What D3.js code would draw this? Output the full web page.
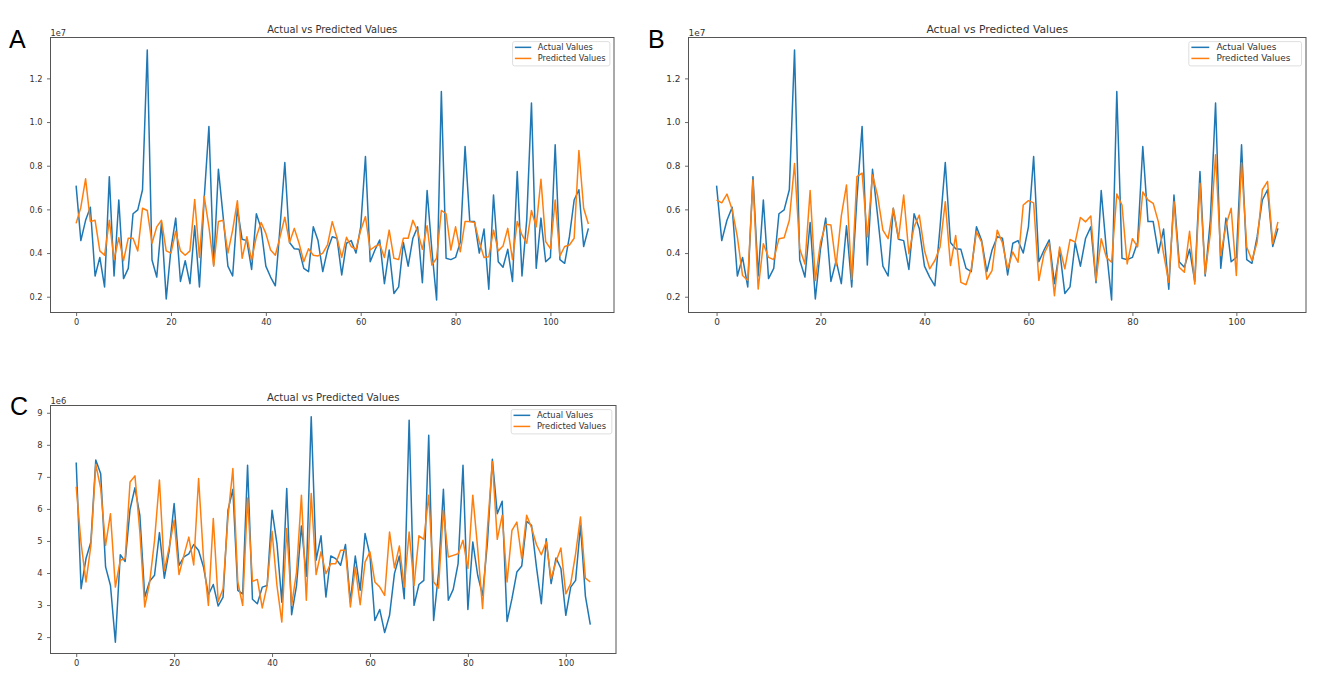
<!DOCTYPE html>
<html><head><meta charset="utf-8">
<script src="https://cdn.jsdelivr.net/npm/d3@7"></script>
<style>body{margin:0;background:#fff}svg{display:block}text{font-family:"DejaVu Sans",sans-serif}</style>
</head><body><svg id="c" width="1320" height="689"></svg>
<script>
// ---- data (values in millions) ----
const indexTicks = [0, 20, 40, 60, 80, 100];
const yTicksAB = [2e6, 4e6, 6e6, 8e6, 10e6, 12e6];
const yTicksC = [2e6, 3e6, 4e6, 5e6, 6e6, 7e6, 8e6, 9e6];
const seriesNames = ["Actual Values", "Predicted Values"];
const panelTitle = "Actual vs Predicted Values";

const actualAB = [7.09,4.57,5.5,6.1,2.95,3.8,2.45,7.5,2.95,6.43,2.83,3.3,5.8,5.98,6.9,13.3,3.68,2.9,5.4,1.9,
4.2,5.6,2.7,3.65,2.6,5.25,2.45,6.5,9.8,3.45,7.84,5.67,3.4,2.95,6.05,4.63,4.57,3.25,5.8,5.13,
3.4,2.9,2.5,5.2,8.15,4.48,4.2,4.17,3.3,3.15,5.2,4.57,3.15,4.14,4.75,4.68,3.0,4.45,4.57,4.0,
5.2,8.42,3.6,4.14,4.6,2.6,4.14,2.15,2.45,4.48,3.4,4.68,5.2,2.64,6.86,4.14,1.85,11.4,3.76,3.7,
3.8,4.5,8.88,5.44,5.44,4.0,5.1,2.34,6.66,3.6,3.35,4.17,2.7,7.73,2.95,5.52,10.87,3.3,5.6,3.6,
3.8,8.96,3.7,3.53,4.75,6.43,6.9,4.3,5.13];

const predictedA = [5.36,6.1,7.4,5.45,5.5,4.1,3.9,5.5,3.7,4.7,3.65,4.68,4.68,4.1,6.05,5.95,4.45,5.2,5.5,4.1,
4.0,5.0,4.1,3.9,4.1,6.45,3.8,6.6,5.2,3.4,5.45,5.5,4.0,5.05,6.4,3.76,4.75,3.68,4.75,5.4,
4.9,4.14,3.9,4.75,5.64,4.48,5.13,4.45,3.6,4.2,3.9,3.87,4.0,4.37,5.44,4.7,3.8,4.72,4.3,4.17,
5.05,5.67,4.14,4.3,4.4,3.8,5.05,3.76,3.7,4.68,4.68,5.5,5.0,4.17,5.25,3.45,3.76,5.95,5.8,4.14,
5.2,4.06,5.44,5.44,5.4,4.5,3.8,3.83,5.05,4.1,4.32,5.13,3.7,5.44,4.83,4.45,5.95,5.2,7.38,4.52,
4.2,6.43,3.87,4.3,4.37,4.68,8.7,6.05,5.33];

const predictedB = [6.43,6.3,6.7,6.0,4.74,2.97,2.74,7.35,2.35,4.43,3.8,3.7,4.66,4.7,5.5,8.1,4.2,3.5,6.86,2.74,
4.5,5.32,5.28,3.43,5.7,7.12,2.8,7.5,7.66,4.74,7.58,6.6,5.05,4.66,6.05,4.66,6.66,3.97,5.2,5.74,
4.12,3.28,3.66,4.28,6.35,3.43,4.8,2.66,2.55,3.28,4.97,4.5,2.8,3.2,5.05,4.46,3.28,4.05,3.58,6.2,
6.4,6.3,2.74,3.97,4.46,2.05,4.28,3.28,4.62,4.5,5.63,5.43,5.7,2.74,4.66,3.8,3.58,6.7,6.2,3.5,
4.66,4.28,6.8,6.43,6.28,5.43,3.97,2.66,6.35,3.35,3.12,5.0,2.58,7.2,3.05,4.9,8.5,3.89,5.28,6.05,
2.97,8.12,4.28,3.66,4.5,6.9,7.28,4.43,5.43];

const actualC = [7.45,3.51,4.45,4.97,7.53,7.1,4.19,3.61,1.84,4.57,4.36,5.99,6.66,5.8,3.25,3.74,3.93,5.26,3.84,4.71,
6.17,4.24,4.5,4.6,4.89,4.7,4.19,3.32,3.64,2.97,3.25,5.96,6.61,3.46,3.35,7.36,3.18,3.04,3.56,3.61,
5.96,4.92,3.09,6.64,2.7,3.61,5.47,3.9,8.875,4.4,5.16,3.25,4.53,4.45,4.24,4.89,3.09,4.53,3.46,5.23,
4.55,2.52,2.86,2.14,2.68,3.98,4.53,3.2,8.77,2.99,3.64,3.77,8.3,2.52,4.0,6.61,3.15,3.49,4.29,7.36,
2.86,4.97,3.93,3.3,4.97,7.55,5.85,6.24,2.49,3.2,4.03,4.22,5.61,5.49,4.19,3.04,5.07,3.67,4.47,4.14,
2.68,3.56,3.77,5.49,3.28,2.39];

const predictedC = [6.69,4.92,3.72,4.86,7.39,6.64,4.86,5.85,3.56,4.4,4.45,6.84,7.03,5.28,2.94,3.7,5.02,6.9,4.08,4.81,
5.65,3.95,4.55,5.12,4.25,6.95,4.45,2.99,5.7,3.11,3.51,5.75,7.26,3.72,2.99,6.34,3.74,3.8,2.91,3.61,
5.3,3.61,2.47,5.39,2.99,4.03,6.43,3.15,6.48,3.95,4.66,3.98,4.29,4.29,4.71,4.71,2.94,4.19,3.01,4.34,
4.66,3.72,3.56,3.3,5.28,4.16,4.84,3.56,5.28,3.61,5.16,5.05,6.43,3.72,3.53,5.96,4.5,4.55,4.6,5.02,
4.14,6.43,4.76,2.89,5.39,7.47,5.05,5.8,3.72,5.33,5.59,4.45,5.8,5.41,4.89,4.57,4.97,3.82,4.36,4.78,
3.35,3.67,4.6,5.75,3.84,3.72];

const panels = [
  {letter:"A", lx:9, ly:48, l:50.5, r:614, t:37.5, b:312.5, actual:actualAB, pred:predictedA, yTicks:yTicksAB, exp:1e7, dec:1, off:"1e7", sx:1},
  {letter:"B", lx:648, ly:48, l:688.5, r:1306, t:37.5, b:312.5, actual:actualAB, pred:predictedB, yTicks:yTicksAB, exp:1e7, dec:1, off:"1e7", sx:1.09},
  {letter:"C", lx:10, ly:415, l:50.5, r:616, t:405.5, b:653.5, actual:actualC, pred:predictedC, yTicks:yTicksC, exp:1e6, dec:0, off:"1e6", sx:1.02}
];

const svg = d3.select("#c");
const colors = ["#1f77b4", "#ff7f0e"];
const fs = 8.2;

function stretch(sel, sx){
  if (sx === 1) return;
  sel.each(function(){
    const len = this.getComputedTextLength();
    d3.select(this).attr("textLength", len*sx).attr("lengthAdjust","spacingAndGlyphs");
  });
}

function drawPanel(o){
  const g = svg.append("g");
  const n = o.actual.length;
  const all = o.actual.concat(o.pred).map(v => v*1e6);
  const mn = d3.min(all), mx = d3.max(all), pad = (mx-mn)*0.05;
  const xpad = (n-1)*0.05;
  const x = d3.scaleLinear().domain([-xpad, n-1+xpad]).range([o.l, o.r]);
  const y = d3.scaleLinear().domain([mn-pad, mx+pad]).range([o.b, o.t]);
  const line = d3.line().x((d,i)=>x(i)).y(d=>y(d*1e6));

  [o.actual, o.pred].forEach((arr,k)=>{
    g.append("path").attr("d", line(arr)).attr("fill","none")
      .attr("stroke", colors[k]).attr("stroke-width",1.5).attr("stroke-linejoin","round");
  });

  const xa = g.append("g").attr("transform",`translate(0,${o.b})`)
    .call(d3.axisBottom(x).tickValues(indexTicks).tickSize(3.5).tickPadding(3).tickFormat(d3.format("d")));
  const ya = g.append("g").attr("transform",`translate(${o.l},0)`)
    .call(d3.axisLeft(y).tickValues(o.yTicks).tickSize(3.5).tickPadding(4.5).tickFormat(d=>(d/o.exp).toFixed(o.dec)));
  [xa, ya].forEach(a=>{
    a.select(".domain").remove();
    a.selectAll(".tick line").attr("stroke","#444").attr("stroke-width",0.8);
    a.selectAll(".tick text").attr("fill","#333").style("font-size",fs+"px").style("font-family",'"DejaVu Sans",sans-serif');
    stretch(a.selectAll(".tick text"), o.sx);
  });

  g.append("rect").attr("x",o.l).attr("y",o.t).attr("width",o.r-o.l).attr("height",o.b-o.t)
    .attr("fill","none").attr("stroke","#555").attr("stroke-width",1);

  const title = g.append("text").attr("x",(o.l+o.r)/2).attr("y",o.t-4.5).attr("text-anchor","middle")
    .attr("fill","#333").style("font-size","9.9px").text(panelTitle);
  stretch(title, o.sx);

  const off = g.append("text").attr("x",o.l).attr("y",o.t-1.8).attr("fill","#333").style("font-size",fs+"px").text(o.off);
  stretch(off, o.sx);

  svg.append("text").attr("x",o.lx).attr("y",o.ly).attr("fill","#000")
    .style("font-family",'"Liberation Sans",Arial,sans-serif').style("font-size","25px").text(o.letter);

  // legend
  const lg = g.append("g");
  const box = lg.append("rect");
  const texts = [];
  const rowY = [o.t + 4.1 + 0.7*fs, o.t + 4.1 + 0.7*fs + 11.1];
  seriesNames.forEach((nm,k)=>{
    const t = lg.append("text").attr("y", rowY[k]).attr("dy","0.35em").attr("fill","#333")
      .style("font-size",fs+"px").text(nm);
    stretch(t, o.sx);
    texts.push(t);
  });
  const tw = d3.max(texts, t=>t.node().getComputedTextLength()) * o.sx;
  const hsx = 0.4*fs*o.sx, hl = 2*fs*o.sx, hp = 0.8*fs*o.sx;
  const bw = hsx + hl + hp + tw + 0.4*fs*o.sx;
  const bx = o.r - 0.5*fs*o.sx - bw, by = o.t + 0.5*fs;
  const bh = 24.3;
  box.attr("x",bx).attr("y",by).attr("width",bw).attr("height",bh).attr("rx",2)
    .attr("fill","#fff").attr("fill-opacity",0.8).attr("stroke","#d6d6d6").attr("stroke-width",0.8);
  seriesNames.forEach((nm,k)=>{
    lg.append("line").attr("x1",bx+hsx-1).attr("x2",bx+hsx-1+hl).attr("y1",rowY[k]).attr("y2",rowY[k])
      .attr("stroke",colors[k]).attr("stroke-width",1.5);
    texts[k].attr("x", bx+hsx-1+hl+hp);
  });
}

panels.forEach(drawPanel);
</script>
</body></html>
